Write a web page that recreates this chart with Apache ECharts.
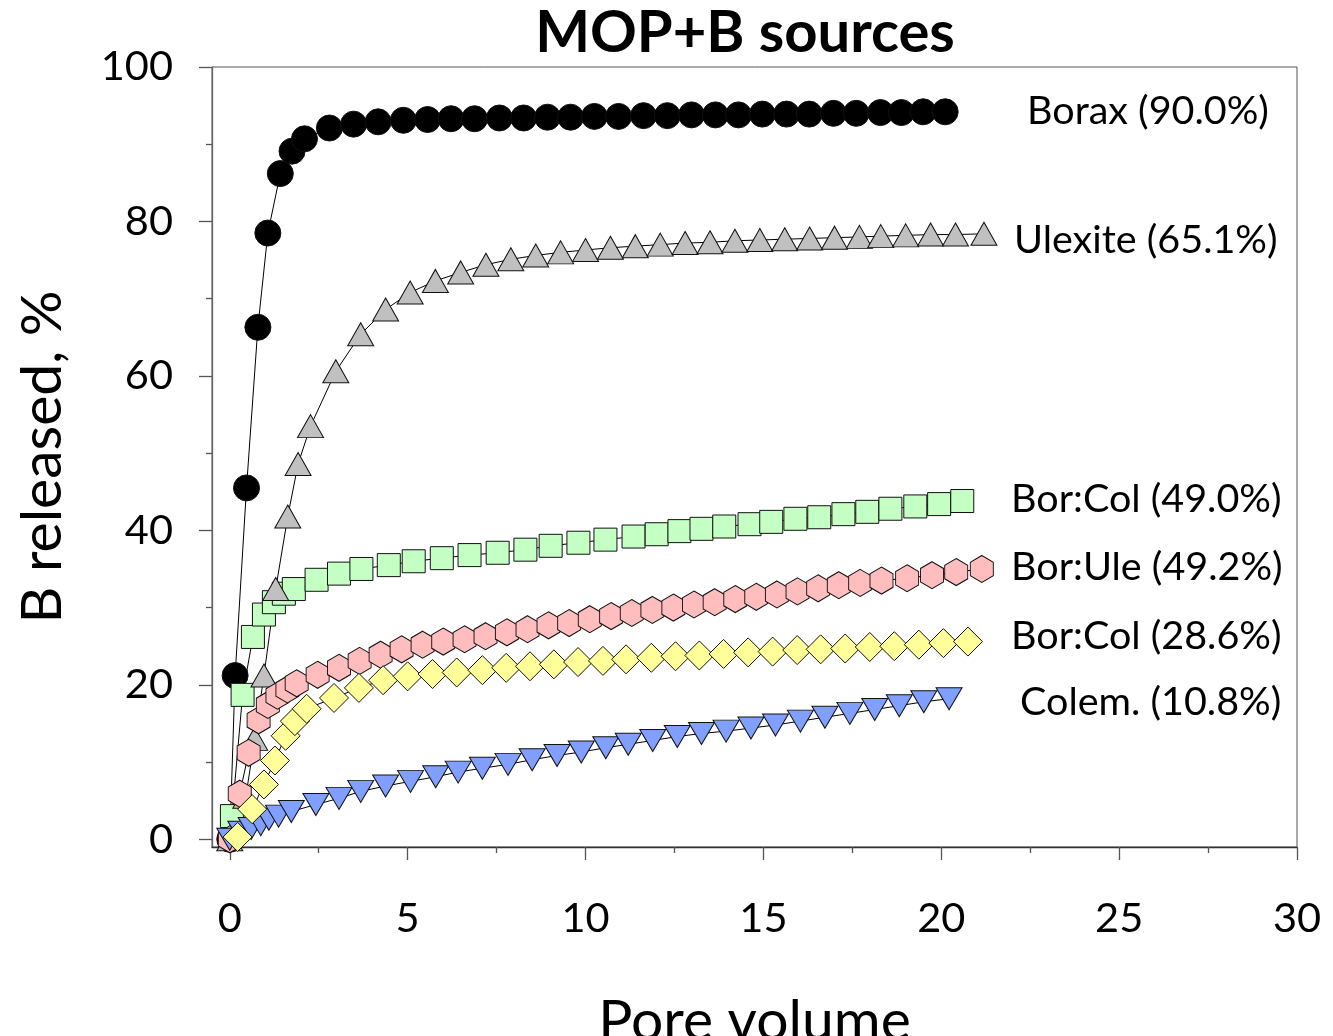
<!DOCTYPE html>
<html>
<head>
<meta charset="utf-8">
<title>MOP+B sources</title>
<script src="https://cdn.jsdelivr.net/npm/echarts@6/dist/echarts.min.js"></script>
<style>
  html, body { margin: 0; padding: 0; background: #fff; }
  #chart { width: 1333px; height: 1036px; }
</style>
</head>
<body>
<div id="chart"></div>
<script>
// Cumulative boron released (%) versus leached pore volumes, per B source

const boraxX = [0, 0.15, 0.47, 0.79, 1.07, 1.42, 1.75, 2.1, 2.8, 3.48, 4.17, 4.88, 5.56, 6.22, 6.88, 7.58, 8.26, 8.93, 9.58, 10.25, 10.93, 11.63, 12.3, 12.98, 13.65, 14.3, 14.97, 15.65, 16.29, 16.97, 17.61, 18.29, 18.88, 19.49, 20.11];
const boraxY = [0, 21.2, 45.5, 66.3, 78.5, 86.2, 89.1, 90.7, 92.1, 92.6, 92.9, 93.1, 93.2, 93.3, 93.3, 93.4, 93.4, 93.5, 93.5, 93.6, 93.6, 93.7, 93.7, 93.8, 93.8, 93.8, 93.9, 93.9, 93.9, 94.0, 94.0, 94.1, 94.1, 94.2, 94.2];

const ulexiteX = [0, 0.45, 0.7, 0.96, 1.29, 1.63, 1.92, 2.27, 2.98, 3.68, 4.38, 5.07, 5.78, 6.49, 7.2, 7.9, 8.6, 9.3, 10.0, 10.7, 11.4, 12.1, 12.8, 13.5, 14.2, 14.9, 15.6, 16.3, 17.0, 17.7, 18.3, 19.0, 19.7, 20.4, 21.2];
const ulexiteY = [0, 5.5, 13.0, 21.2, 32.4, 41.8, 48.6, 53.5, 60.6, 65.4, 68.6, 70.8, 72.3, 73.4, 74.4, 75.1, 75.6, 76.0, 76.3, 76.6, 76.8, 77.0, 77.2, 77.3, 77.5, 77.6, 77.7, 77.8, 77.9, 78.0, 78.1, 78.2, 78.3, 78.3, 78.4];

const borCol49X = [0.06, 0.36, 0.65, 0.96, 1.24, 1.52, 1.8, 2.44, 3.07, 3.7, 4.47, 5.17, 5.96, 6.74, 7.53, 8.31, 9.02, 9.8, 10.56, 11.35, 12.0, 12.64, 13.26, 13.9, 14.61, 15.22, 15.9, 16.57, 17.25, 17.92, 18.57, 19.27, 19.94, 20.59];
const borCol49Y = [3.0, 18.7, 26.2, 29.1, 30.7, 31.8, 32.4, 33.6, 34.4, 35.0, 35.5, 36.0, 36.4, 36.8, 37.1, 37.5, 38.0, 38.4, 38.8, 39.2, 39.5, 39.9, 40.2, 40.5, 40.8, 41.1, 41.5, 41.7, 42.1, 42.4, 42.8, 43.1, 43.4, 43.8];

const borUleX = [0, 0.28, 0.53, 0.81, 1.07, 1.34, 1.62, 1.88, 2.47, 3.07, 3.65, 4.24, 4.83, 5.42, 6.0, 6.6, 7.19, 7.79, 8.37, 8.96, 9.54, 10.12, 10.72, 11.3, 11.88, 12.47, 13.05, 13.63, 14.21, 14.8, 15.38, 15.96, 16.54, 17.12, 17.72, 18.32, 19.04, 19.74, 20.42, 21.14];
const borUleY = [0, 5.9, 11.2, 15.4, 17.4, 18.6, 19.4, 20.2, 21.3, 22.2, 23.1, 23.9, 24.6, 25.2, 25.6, 25.9, 26.3, 26.8, 27.2, 27.7, 28.0, 28.5, 28.9, 29.3, 29.7, 30.0, 30.4, 30.7, 31.1, 31.4, 31.7, 32.1, 32.5, 32.9, 33.2, 33.5, 33.8, 34.2, 34.6, 35.0];

const colemX = [0, 0.31, 0.6, 0.87, 1.1, 1.37, 1.73, 2.42, 3.07, 3.68, 4.38, 5.08, 5.79, 6.42, 7.1, 7.82, 8.5, 9.2, 9.88, 10.57, 11.2, 11.89, 12.58, 13.26, 13.95, 14.65, 15.34, 16.04, 16.73, 17.43, 18.13, 18.82, 19.51, 20.22];
const colemY = [0, 0.9, 1.4, 1.9, 2.6, 3.0, 3.6, 4.5, 5.3, 6.2, 6.9, 7.5, 8.1, 8.7, 9.2, 9.7, 10.3, 10.85, 11.3, 11.85, 12.3, 12.8, 13.3, 13.7, 14.0, 14.4, 14.8, 15.3, 15.8, 16.3, 16.8, 17.3, 17.8, 18.2];

const borCol29X = [0.22, 0.63, 0.96, 1.27, 1.57, 1.83, 2.16, 2.93, 3.63, 4.31, 5.0, 5.7, 6.38, 7.1, 7.77, 8.44, 9.11, 9.79, 10.49, 11.14, 11.85, 12.53, 13.2, 13.88, 14.57, 15.26, 15.95, 16.61, 17.3, 17.99, 18.68, 19.37, 20.06, 20.75];
const borCol29Y = [0.3, 3.9, 7.1, 10.2, 13.4, 15.3, 16.9, 18.3, 19.6, 20.6, 21.1, 21.4, 21.6, 21.9, 22.2, 22.4, 22.65, 22.95, 23.1, 23.3, 23.5, 23.7, 23.8, 24.0, 24.2, 24.3, 24.5, 24.6, 24.7, 24.9, 25.0, 25.2, 25.4, 25.6];

const xMajorTicks = [0, 5, 10, 15, 20, 25, 30];
const xMinorTicks = [2.5, 7.5, 12.5, 17.5, 22.5, 27.5];
const yMajorTicks = [0, 20, 40, 60, 80, 100];
const yMinorTicks = [10, 30, 50, 70, 90];

const seriesLabels = ['Borax (90.0%)', 'Ulexite (65.1%)', 'Bor:Col (49.0%)', 'Bor:Ule (49.2%)', 'Bor:Col (28.6%)', 'Colem. (10.8%)'];

const FONT = 'Lato, "Noto Sans", sans-serif';
const hexagon = 'path://M0,-10 L8.66,-5 L8.66,5 L0,10 L-8.66,5 L-8.66,-5 Z';

const pairs = (xs, ys) => xs.map((x, i) => [x, ys[i]]);

function markerSeries(name, xs, ys, symbol, size, fill, rotate) {
  return {
    name: name,
    type: 'line',
    data: pairs(xs, ys),
    xAxisIndex: 0,
    yAxisIndex: 0,
    symbol: symbol,
    symbolSize: size,
    symbolRotate: rotate || 0,
    showSymbol: true,
    clip: false,
    silent: true,
    lineStyle: { color: '#000', width: 1 },
    itemStyle: { color: fill, borderColor: '#111', borderWidth: 1 },
    emphasis: { disabled: true }
  };
}

// label text on the right of the plot: [text, left x, vertical middle]
const labelPlacement = [
  [seriesLabels[0], 1027, 111],
  [seriesLabels[1], 1014, 240],
  [seriesLabels[2], 1011, 499],
  [seriesLabels[3], 1011, 567],
  [seriesLabels[4], 1011, 636],
  [seriesLabels[5], 1020, 702]
];

const chart = echarts.init(document.getElementById('chart'), null, { renderer: 'canvas' });

const axisColor = '#555';

chart.setOption({
  animation: false,
  backgroundColor: '#fff',
  title: {
    text: 'MOP+B sources',
    left: 745,
    textAlign: 'center',
    top: 4,
    padding: 0,
    textStyle: { fontFamily: FONT, fontWeight: 'bold', fontSize: 58, color: '#000' }
  },
  grid: {
    left: 212, right: 36, top: 67, bottom: 189,
    show: true, borderColor: axisColor, borderWidth: 1,
    containLabel: false, outerBoundsMode: 'none'
  },
  xAxis: [{
    type: 'value', min: -0.5, max: 30, position: 'bottom',
    axisLine: { show: true, onZero: false, lineStyle: { color: '#333', width: 1.3 } },
    axisTick: { show: true, inside: false, length: 13, customValues: xMajorTicks, lineStyle: { color: axisColor, width: 1.3 } },
    axisLabel: { show: true, customValues: xMajorTicks, margin: 51, fontFamily: FONT, fontSize: 41.5, color: '#000' },
    splitLine: { show: false },
    name: 'Pore volume', nameLocation: 'middle', nameGap: 146, nameMoveOverlap: false,
    nameTextStyle: { fontFamily: FONT, fontSize: 57, color: '#000' }
  }, {
    type: 'value', min: -0.5, max: 30, position: 'bottom',
    axisLine: { show: false, onZero: false },
    axisTick: { show: true, inside: false, length: 6, customValues: xMinorTicks, lineStyle: { color: axisColor, width: 1.3 } },
    axisLabel: { show: false },
    splitLine: { show: false }
  }],
  yAxis: [{
    type: 'value', min: -1, max: 100, position: 'left',
    axisLine: { show: true, onZero: false, lineStyle: { color: '#666', width: 1.3 } },
    axisTick: { show: true, inside: false, length: 13, customValues: yMajorTicks, lineStyle: { color: axisColor, width: 1.3 } },
    axisLabel: { show: true, customValues: yMajorTicks, margin: 39, fontFamily: FONT, fontSize: 41.5, color: '#000' },
    splitLine: { show: false },
    name: 'B released, %', nameLocation: 'middle', nameGap: 141, nameMoveOverlap: false,
    nameTextStyle: { fontFamily: FONT, fontSize: 57, color: '#000' }
  }, {
    type: 'value', min: -1, max: 100, position: 'left',
    axisLine: { show: false, onZero: false },
    axisTick: { show: true, inside: false, length: 6, customValues: yMinorTicks, lineStyle: { color: axisColor, width: 1.3 } },
    axisLabel: { show: false },
    splitLine: { show: false }
  }],
  series: [
    markerSeries(seriesLabels[0], boraxX, boraxY, 'circle', 26, '#000'),
    markerSeries(seriesLabels[2], borCol49X, borCol49Y, 'rect', 23, '#c4ffc4'),
    markerSeries(seriesLabels[1], ulexiteX, ulexiteY, 'triangle', [26, 23], '#c0c0c0'),
    markerSeries(seriesLabels[3], borUleX, borUleY, hexagon, [23, 27], '#ffbdbd'),
    markerSeries(seriesLabels[5], colemX, colemY, 'triangle', [26, 22], '#809fff', 180),
    markerSeries(seriesLabels[4], borCol29X, borCol29Y, 'diamond', 29, '#ffff99')
  ],
  graphic: labelPlacement.map(([text, x, y]) => ({
    type: 'text',
    x: x,
    y: y,
    silent: true,
    style: {
      text: text,
      fill: '#000',
      font: '39.5px ' + FONT,
      textAlign: 'left',
      textVerticalAlign: 'middle'
    }
  }))
});
</script>
</body>
</html>
